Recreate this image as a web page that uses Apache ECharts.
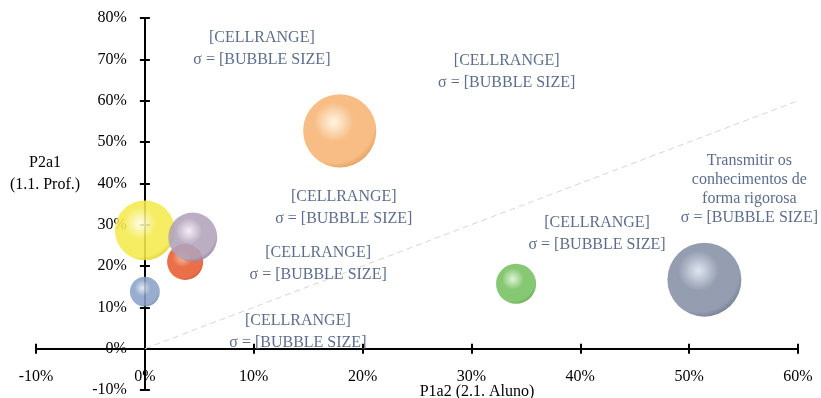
<!DOCTYPE html>
<html>
<head>
<meta charset="utf-8">
<script src="https://cdn.jsdelivr.net/npm/echarts@6/dist/echarts.min.js"></script>
<style>
  html, body { margin: 0; padding: 0; background: #fff; }
  #chart { width: 821px; height: 398px; }
</style>
</head>
<body>
<div id="chart"></div>
<script>
// Bubble data: x = P1a2 (2.1. Aluno), y = P2a1 (1.1. Prof.), sigma drives bubble area
const names = [
  '[CELLRANGE]', '[CELLRANGE]', '[CELLRANGE]', '[CELLRANGE]',
  '[CELLRANGE]', '[CELLRANGE]', 'Transmitir os\nconhecimentos de\nforma rigorosa'
];
const xValues = [0.0, 3.7, 4.4, 0.0, 17.9, 34.1, 51.4];
const yValues = [28.6, 21.0, 27.0, 13.8, 52.7, 15.7, 16.7];
const sigmaValues = [0.85, 0.31, 0.57, 0.21, 1.27, 0.38, 1.30];
const diagonal = [[0, 0], [60, 60]];
const xRange = [-10, 60];
const yRange = [-10, 80];
const xAxisTitle = 'P1a2 (2.1. Aluno)';
const yAxisTitle = 'P2a1\n(1.1. Prof.)';

// Sphere shading per bubble: highlight, body, rim
const palette = [
  ['#fffde0', '#f4ea4c', '#d8c818'],
  ['#f8b090', '#e85c30', '#c0401a'],
  ['#f2ecf4', '#b2a2ba', '#887894'],
  ['#dce6f4', '#8aa2c8', '#5e7898'],
  ['#fff4e0', '#f6b474', '#d88840'],
  ['#dcf4d0', '#76c060', '#4a9638'],
  ['#dce2ee', '#8690a6', '#5a6478']
];
// Label placement relative to each bubble centre (px)
const labelOffsets = [[117, -182], [133, 2], [151, -29], [153, 40], [167, -59], [81, -50], [45, -90]];

const SIZE_SCALE = 64.9;
const serif = '"Liberation Serif", "Times New Roman", serif';

function sphere(c) {
  return {
    type: 'radial', x: 0.42, y: 0.38, r: 0.68,
    colorStops: [
      { offset: 0, color: c[0] },
      { offset: 0.4, color: c[1] },
      { offset: 0.82, color: c[1] },
      { offset: 1, color: c[2] }
    ]
  };
}

const bubbles = xValues.map((x, i) => ({
  name: names[i],
  value: [x, yValues[i], sigmaValues[i]],
  itemStyle: { color: sphere(palette[i]), opacity: 0.88 },
  label: { offset: labelOffsets[i], lineHeight: names[i].indexOf('\n') >= 0 ? 19 : 22 }
}));

const pct = v => v + '%';
const axisFont = { fontFamily: serif, fontSize: 16, color: '#000' };

// Two axes per direction: one with outward ticks and labels, one with inward ticks,
// so each tick crosses the axis line.
function xAxisDef(inside, show, offset) {
  return {
    type: 'value', min: xRange[0], max: xRange[1], interval: 10, position: 'bottom', offset: offset,
    axisLine: { show: true, onZero: false, lineStyle: { color: '#000', width: 2 } },
    axisTick: { show: true, inside: inside, length: 5, lineStyle: { color: '#000', width: 2 } },
    axisLabel: { show: show, formatter: pct, margin: 20, ...axisFont },
    splitLine: { show: false },
    name: show ? xAxisTitle : '',
    nameLocation: 'middle', nameGap: 35, nameMoveOverlap: false,
    nameTextStyle: { fontFamily: serif, fontSize: 16, color: '#000', padding: [0, 0, 0, 120] }
  };
}
function yAxisDef(inside, show, offset) {
  return {
    type: 'value', min: yRange[0], max: yRange[1], interval: 10, position: 'left', offset: offset,
    axisLine: { show: true, onZero: false, lineStyle: { color: '#000', width: 2 } },
    axisTick: { show: true, inside: inside, length: 5, lineStyle: { color: '#000', width: 2 } },
    axisLabel: { show: show, formatter: pct, margin: 18, ...axisFont },
    splitLine: { show: false }
  };
}

function buildOption(xOff, yOff) {
  return {
    animation: false,
    backgroundColor: '#fff',
    grid: { left: 36, right: 23, top: 18, bottom: 8, containLabel: false, outerBoundsMode: 'none' },
    xAxis: [xAxisDef(false, true, xOff), xAxisDef(true, false, xOff)],
    yAxis: [yAxisDef(false, true, yOff), yAxisDef(true, false, yOff)],
    graphic: [{
      type: 'text', x: 45, y: 174,
      style: {
        text: yAxisTitle, font: '16px ' + serif, fill: '#000',
        align: 'center', verticalAlign: 'middle', lineHeight: 22
      }
    }],
    series: [
      {
        type: 'line', data: diagonal, symbol: 'none', silent: true, z: 1,
        lineStyle: { color: '#d6d6d6', width: 1, type: [6, 4] }
      },
      {
        type: 'scatter', data: bubbles, z: 3,
        symbolSize: v => SIZE_SCALE * Math.sqrt(v[2]),
        label: {
          show: true, position: 'inside',
          formatter: p => p.name + '\nσ = [BUBBLE SIZE]',
          fontFamily: serif, fontSize: 16, color: '#46597c', align: 'center'
        },
        emphasis: { disabled: true }
      }
    ]
  };
}

const chart = echarts.init(document.getElementById('chart'), null, { renderer: 'canvas' });
chart.setOption(buildOption(0, 0));
// Move both axis lines so they cross at the origin of the value scales
const origin = chart.convertToPixel({ xAxisIndex: 0, yAxisIndex: 0 }, [0, 0]);
const corner = chart.convertToPixel({ xAxisIndex: 0, yAxisIndex: 0 }, [xRange[0], yRange[0]]);
chart.setOption(buildOption(-(corner[1] - origin[1]), -(origin[0] - corner[0])));
</script>
</body>
</html>
